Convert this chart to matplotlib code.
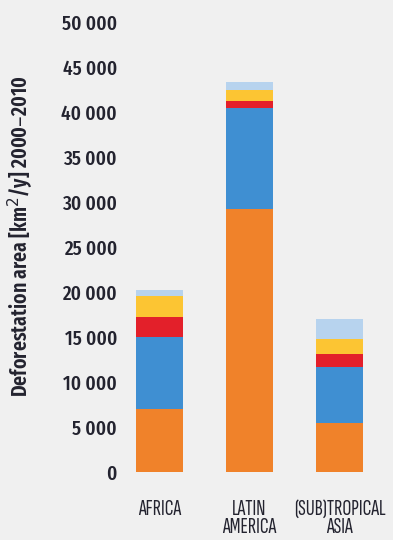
import matplotlib
matplotlib.use("Agg")
import matplotlib.pyplot as plt
import numpy as np

categories = ["AFRICA", "LATIN\nAMERICA", "(SUB)TROPICAL\nASIA"]
orange = [7000, 29200, 5500]
blue = [8000, 11200, 6200]
red = [2250, 800, 1400]
yellow = [2300, 1300, 1700]
lightblue = [700, 800, 2200]
yticks = [0, 5000, 10000, 15000, 20000, 25000, 30000, 35000, 40000, 45000, 50000]
ytick_labels = ["0", "5 000", "10 000", "15 000", "20 000", "25 000", "30 000",
                "35 000", "40 000", "45 000", "50 000"]

series = [orange, blue, red, yellow, lightblue]
colors = ["#f0822a", "#3f8fd2", "#e3202a", "#fcc533", "#b7d3ee"]

plt.rcParams['font.family'] = ['Fira Sans Extra Condensed', 'DejaVu Sans']
txtcol = "#23232f"
bg = "#f0f0f0"
fig = plt.figure(figsize=(3.93, 5.40), dpi=100, facecolor=bg)
ax = fig.add_axes([0.305, 0.1259, 0.674, 0.8333], facecolor=bg)

x = np.arange(len(categories))
bottom = np.zeros(len(categories))
for vals, c in zip(series, colors):
    ax.bar(x, vals, bottom=bottom, width=0.52, color=c, edgecolor="none")
    bottom += np.array(vals)

ax.set_xlim(-0.441, 2.503)
ax.set_ylim(0, 50000)
ax.set_yticks(yticks)
ax.set_yticklabels(ytick_labels, fontsize=15, fontweight="medium", color=txtcol)
ax.set_xticks(x)
ax.set_xticklabels(categories, fontsize=16, fontweight="bold", color=txtcol,
                   linespacing=0.95,
                   family=['Sofia Sans Extra Condensed', 'DejaVu Sans'])
ax.tick_params(axis="y", length=0, pad=2)
ax.tick_params(axis="x", length=0, pad=20)
for s in ax.spines.values():
    s.set_visible(False)

fig.text(0.052, 0.562, "Deforestation area [km$^2$/y] 2000\u20132010", rotation=90,
         ha="center", va="center", fontsize=15.5, fontweight="semibold", color=txtcol)

fig.savefig("out.png", dpi=100, facecolor=bg)
